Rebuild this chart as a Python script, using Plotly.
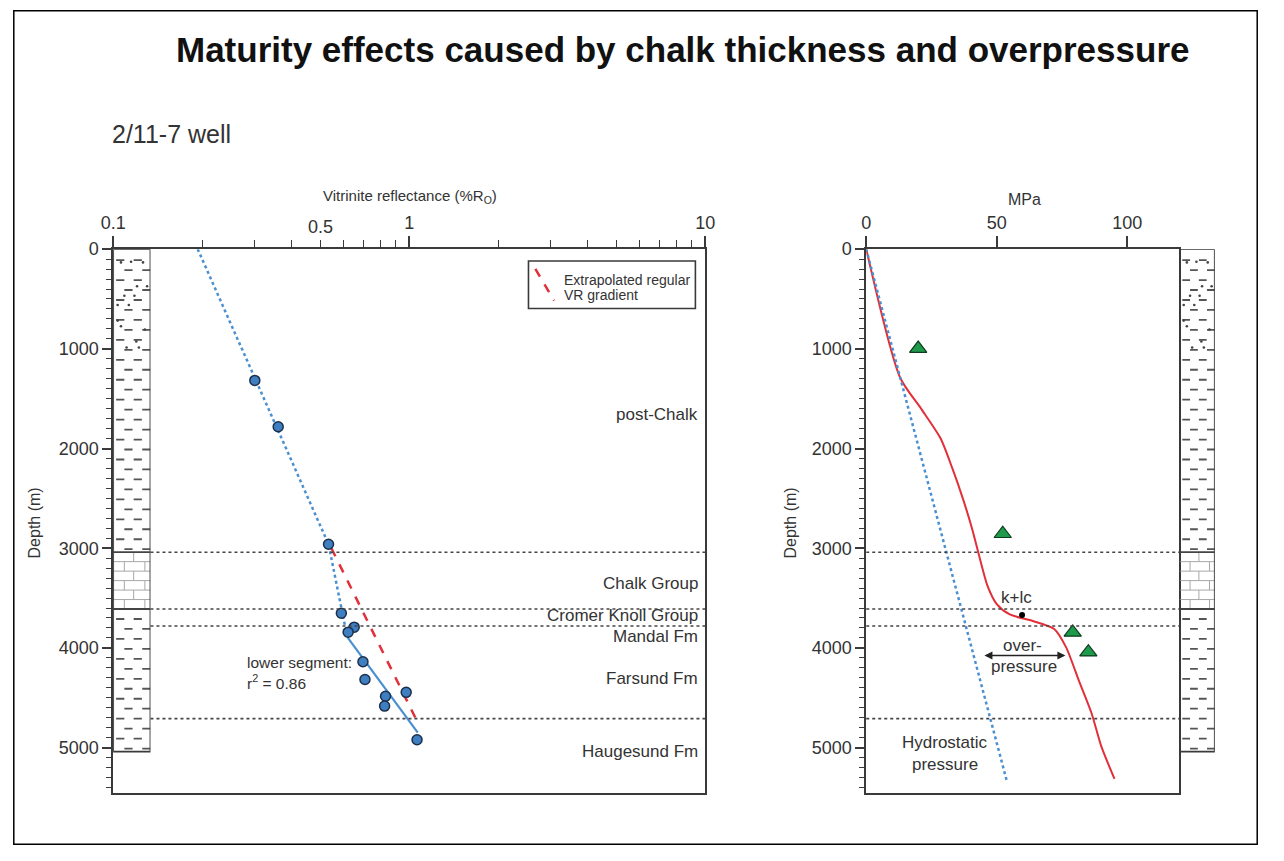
import math
import plotly.graph_objects as go

# The page body keeps its default 8 px margin, so the figure is sized to fill
# the rest of the 1284 x 861 window exactly.
PAGE_W, PAGE_H = 1284, 861
BODY_MARGIN = 8
W, H = PAGE_W - 2 * BODY_MARGIN, PAGE_H - 2 * BODY_MARGIN

FONT = "Liberation Sans, Arial, sans-serif"
TXT = "#333333"
AX = "#3a3a3a"
BLUE_PT = "#3f7fc1"
BLUE_LN = "#4a8fd0"
RED = "#e2303a"
GREEN = "#1f9a4a"

# ---- Vitrinite reflectance measurements (%Ro vs depth in m) ----
vr_ro = [0.301, 0.361, 0.534, 0.590, 0.652, 0.622, 0.698, 0.709, 0.832, 0.977, 0.826, 1.063]
vr_depth = [1317, 1782, 2960, 3653, 3792, 3842, 4139, 4317, 4485, 4446, 4584, 4921]

# trend lines
upper_trend_ro = [0.193, 0.534, 0.607]
upper_trend_depth = [0, 2960, 3780]
lower_fit_ro = [0.619, 1.069]
lower_fit_depth = [3894, 4851]
extrap_ro = [0.546, 1.057]
extrap_depth = [3000, 4720]

# ---- Stratigraphy ----
boundary_depths = [3040, 3610, 3780, 4710]
formation_names = ["post-Chalk", "Chalk Group", "Cromer Knoll Group",
                   "Mandal Fm", "Farsund Fm", "Haugesund Fm"]
formation_label_depths = [1663, 3359, 3680, 3888, 4307, 5043]
column_base = 5040
chalk_top = 3040
chalk_base = 3610

# ---- Pressure profile (MPa vs depth in m) ----
hydro_mpa = [0, 54]
hydro_depth = [0, 5350]
pore_mpa = [0, 13.0, 21.0, 28.5, 33.0, 37.0, 40.5, 43.5, 46.5, 50.0, 55.0,
            63.8, 72.0, 76.5, 81.5, 86.3, 90.0, 95.1]
pore_depth = [0, 1290, 1600, 1900, 2200, 2500, 2800, 3100, 3380, 3560, 3665,
              3730, 3810, 3990, 4330, 4653, 4983, 5314]
measured_mpa = [19.9, 52.3, 79.1, 85.1]
measured_depth = [997, 2855, 3845, 4043]
kplc_mpa = [59.7]
kplc_depth = [3670]

DEPTH_MAX = 5452


def px(x):
    """Window pixel column -> paper fraction."""
    return (x - BODY_MARGIN) / W


def py(y):
    """Window pixel row -> paper fraction."""
    return 1 - (y - BODY_MARGIN) / H


fig = go.Figure()

# ---------------- left panel: vitrinite reflectance ----------------
fig.add_trace(go.Scatter(x=upper_trend_ro, y=upper_trend_depth, mode="lines",
                         line=dict(color=BLUE_LN, width=2.5, dash="dot"),
                         xaxis="x", yaxis="y", hoverinfo="skip"))
fig.add_trace(go.Scatter(x=extrap_ro, y=extrap_depth, mode="lines",
                         line=dict(color=RED, width=2.5, dash="dash"),
                         xaxis="x", yaxis="y", hoverinfo="skip"))
fig.add_trace(go.Scatter(x=lower_fit_ro, y=lower_fit_depth, mode="lines",
                         line=dict(color=BLUE_LN, width=2.2),
                         xaxis="x", yaxis="y", hoverinfo="skip"))
fig.add_trace(go.Scatter(x=vr_ro, y=vr_depth, mode="markers",
                         marker=dict(size=10, color=BLUE_PT,
                                     line=dict(color="#1b2f4a", width=1.5)),
                         xaxis="x", yaxis="y"))

# ---------------- right panel: pressure ----------------
fig.add_trace(go.Scatter(x=pore_mpa, y=pore_depth, mode="lines",
                         line=dict(color=RED, width=2, shape="spline", smoothing=0.7),
                         xaxis="x2", yaxis="y2", hoverinfo="skip"))
fig.add_trace(go.Scatter(x=hydro_mpa, y=hydro_depth, mode="lines",
                         line=dict(color=BLUE_LN, width=2.5, dash="dot"),
                         xaxis="x2", yaxis="y2", hoverinfo="skip"))
fig.add_trace(go.Scatter(x=measured_mpa, y=measured_depth, mode="markers",
                         marker=dict(symbol="triangle-up", size=15, color=GREEN,
                                     line=dict(color="#0e3a1f", width=1.2)),
                         xaxis="x2", yaxis="y2"))
fig.add_trace(go.Scatter(x=kplc_mpa, y=kplc_depth, mode="markers",
                         marker=dict(size=6, color="black"),
                         xaxis="x2", yaxis="y2"))


# ---------------- lithology columns ----------------
def add_column(xa, ya):
    dash_color = "#555555"
    # shale dashes, staggered rows every 100 m
    row_a = [(0.08, 0.30), (0.55, 0.77)]
    row_b = [(0.30, 0.52), (0.78, 1.0)]
    xs, ys = [], []
    d, row = 110, 0
    while d < column_base - 20:
        if not (chalk_top - 20 < d < chalk_base + 15):
            for a, b in (row_a if row % 2 == 0 else row_b):
                xs += [a, b, None]
                ys += [d, d, None]
        d += 100
        row += 1
    fig.add_trace(go.Scatter(x=xs, y=ys, mode="lines",
                             line=dict(color=dash_color, width=1.8),
                             xaxis=xa, yaxis=ya, hoverinfo="skip"))
    # silt dots in the shallow interval
    dot_x = [0.21, 0.48, 0.80, 0.91, 0.64, 0.30, 0.57, 0.12, 0.42, 0.12, 0.21,
             0.85, 0.62, 0.36, 0.69]
    dot_d = [133, 127, 133, 373, 373, 467, 467, 560, 560, 717, 773, 807, 927,
             987, 987]
    fig.add_trace(go.Scatter(x=dot_x, y=dot_d, mode="markers",
                             marker=dict(size=2.6, color="#444444"),
                             xaxis=xa, yaxis=ya, hoverinfo="skip"))
    # chalk bricks
    bx, by = [], []
    step = (chalk_base - chalk_top) / 6
    for k in range(1, 6):
        yy = chalk_top + k * step
        bx += [0, 1, None]
        by += [yy, yy, None]
    for k in range(6):
        y0 = chalk_top + k * step
        y1 = y0 + step
        verts = [0.55] if k % 2 == 0 else [0.30, 0.85]
        for v in verts:
            bx += [v, v, None]
            by += [y0, y1, None]
    fig.add_trace(go.Scatter(x=bx, y=by, mode="lines",
                             line=dict(color="#a8a8a8", width=1),
                             xaxis=xa, yaxis=ya, hoverinfo="skip"))
    # chalk top/base contacts
    fig.add_trace(go.Scatter(x=[0, 1, None, 0, 1], y=[chalk_top, chalk_top, None,
                                                      chalk_base, chalk_base],
                             mode="lines", line=dict(color="#444444", width=1.8),
                             xaxis=xa, yaxis=ya, hoverinfo="skip"))
    # outline
    fig.add_trace(go.Scatter(x=[0, 1, 1, 0, 0], y=[0, 0, column_base, column_base, 0],
                             mode="lines", line=dict(color="#3a3a3a", width=1.8),
                             xaxis=xa, yaxis=ya, hoverinfo="skip"))


add_column("x3", "y")
add_column("x4", "y2")

# ---------------- axes ----------------
ydom = [py(800), py(250)]
tickfont = dict(family=FONT, size=18, color=TXT)
common_y = dict(domain=ydom, range=[DEPTH_MAX, 0], showgrid=False, zeroline=False,
                showline=True, mirror=True, linecolor=AX, linewidth=1.6,
                tickvals=[0, 1000, 2000, 3000, 4000, 5000], ticks="outside",
                ticklen=9, tickwidth=1.6, tickcolor=AX, tickfont=tickfont,
                minor=dict(dtick=100, tick0=0, ticks="outside", ticklen=5,
                           tickwidth=1.4, tickcolor=AX))

minor_log = [0.2, 0.3, 0.4, 0.5, 0.6, 0.7, 0.8, 0.9, 2, 3, 4, 5, 6, 7, 8, 9]

fig.update_layout(
    width=W, height=H, margin=dict(l=0, r=0, t=0, b=0),
    paper_bgcolor="white", plot_bgcolor="white", showlegend=False,
    xaxis=dict(domain=[px(110), px(713)], anchor="y", side="top", type="log",
               range=[-1, 1], showgrid=False, zeroline=False, showline=True,
               mirror=True, linecolor=AX, linewidth=1.6,
               tickvals=[0.1, 1, 10], ticktext=["0.1", "1", "10"],
               ticks="outside", ticklen=11, tickwidth=1.6, tickcolor=AX,
               tickfont=tickfont,
               minor=dict(tickvals=minor_log, ticks="outside", ticklen=7,
                          tickwidth=1.4, tickcolor=AX)),
    yaxis=dict(anchor="x", **common_y),
    xaxis2=dict(domain=[px(877), px(1196)], anchor="y2", side="top",
                range=[0, 120], showgrid=False, zeroline=False, showline=True,
                mirror=True, linecolor=AX, linewidth=1.6,
                tickvals=[0, 50, 100], ticks="outside", ticklen=11,
                tickwidth=1.6, tickcolor=AX, tickfont=tickfont),
    yaxis2=dict(anchor="x2", **common_y),
    xaxis3=dict(domain=[px(110), px(148)], anchor="y", range=[0, 1],
                visible=False),
    xaxis4=dict(domain=[px(1196), px(1232)], anchor="y2", range=[0, 1],
                visible=False),
)

# ---------------- formation boundaries ----------------
col_frac = (148 - 110) / (713 - 110)
for d in boundary_depths:
    fig.add_shape(type="line", xref="x domain", yref="y", x0=col_frac, x1=1,
                  y0=d, y1=d, line=dict(color="#444444", width=1.6, dash="dot"))
    fig.add_shape(type="line", xref="x2 domain", yref="y2", x0=0, x1=1,
                  y0=d, y1=d, line=dict(color="#444444", width=1.6, dash="dot"))

# ---------------- text ----------------
ann = []


def text(x, y, s, size=17, xref="paper", yref="paper", xanchor="center",
         yanchor="middle", **kw):
    ann.append(dict(x=x, y=y, xref=xref, yref=yref, text=s, showarrow=False,
                    xanchor=xanchor, yanchor=yanchor,
                    font=dict(family=FONT, size=size, color=kw.pop("color", TXT)),
                    **kw))


text(px(690), py(48), "<b>Maturity effects caused by chalk thickness and overpressure</b>",
     size=35, color="#111111")
text(px(107), py(133), "2/11-7 well", size=25, xanchor="left")
text(px(412), py(197), "Vitrinite reflectance (%R<sub>O</sub>)", size=15)
text(px(1038), py(200), "MPa", size=16)
text(px(30), py(527), "Depth (m)", size=16, textangle=-90)
text(px(800), py(527), "Depth (m)", size=16, textangle=-90)
text(math.log10(0.5), py(228), "0.5", size=18, xref="x")

for name, d in zip(formation_names, formation_label_depths):
    text(0.9917, d, name, xref="x domain", yref="y", xanchor="right")

text(math.log10(0.279), 4149, "lower segment:", size=15.5, xref="x", yref="y",
     xanchor="left")
text(math.log10(0.279), 4347, "r<sup>2</sup> = 0.86", size=15.5, xref="x", yref="y",
     xanchor="left")

text(57.5, 3495, "k+lc", xref="x2", yref="y2")
text(60.0, 3977, "over-", xref="x2", yref="y2")
text(60.6, 4185, "pressure", xref="x2", yref="y2")
text(30, 4950, "Hydrostatic", xref="x2", yref="y2")
text(30, 5165, "pressure", xref="x2", yref="y2")

# over-pressure double arrow
ann.append(dict(x=76.3, y=4076, ax=44.7, ay=4076, xref="x2", yref="y2",
                axref="x2", ayref="y2", text="", showarrow=True,
                arrowhead=2, arrowside="end+start", arrowsize=1,
                arrowwidth=1.6, arrowcolor="#222222", standoff=0, startstandoff=0))

# legend
text(px(567), py(281.7), "Extrapolated regular", size=14, xanchor="left")
text(px(567), py(296.7), "VR gradient", size=14, xanchor="left")
fig.update_layout(annotations=ann)

fig.add_shape(type="rect", xref="paper", yref="paper", x0=px(533), x1=px(703),
              y0=py(310), y1=py(262), line=dict(color="#3a3a3a", width=1.6),
              fillcolor="white", layer="below")
fig.add_shape(type="line", xref="paper", yref="paper", x0=px(540), y0=py(270),
              x1=px(559), y1=py(302), line=dict(color=RED, width=2.5, dash="dash"))

# outer frame along the figure edge
fig.add_shape(type="rect", xref="paper", yref="paper", x0=0.8 / W, x1=1 - 0.8 / W,
              y0=0.8 / H, y1=1 - 0.8 / H, line=dict(color="black", width=1.5))

fig.write_html("out.html")
